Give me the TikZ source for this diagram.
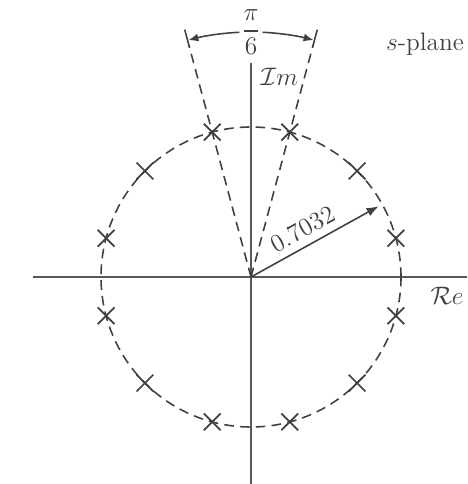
\documentclass[tikz,border=0pt]{standalone}
\usepackage{amsmath,amssymb}
\usepackage{tikz}
\usetikzlibrary{arrows.meta, shapes.misc}

\begin{document}
\begin{tikzpicture}[font=\Large, color=black!75, line width=0.9pt,
  pole/.style={cross out, draw=black!75, line width=1pt, minimum size=0.3cm, inner sep=0pt},
  guide/.style={dash pattern=on 5.5pt off 3.5pt}]
  \useasboundingbox (-5.02,-4.14) rectangle (4.32,5.54);
  % axes
  \coordinate (O) at (0,0);
  \coordinate (xl) at (-4.36,0);
  \coordinate (xr) at (4.32,0);
  \coordinate (yt) at (0,4.28);
  \coordinate (yb) at (0,-4.14);
  \draw[black!65] (xl) -- (xr);
  \draw[black!65] (yb) -- (yt);
  \node[right] (im) at (0.06,4.0) {$\mathcal{I}m$};
  \node (re) at (3.92,-0.38) {$\mathcal{R}e$};
  \node (splane) at (3.48,4.66) {$s$-plane};
  % circle of poles
  \draw[guide] (O) circle (3);
  \foreach \a [count=\i] in {15,45,...,345} {
    \node[pole] (p\i) at (\a:3) {};
  }
  % radius
  \coordinate (rtip) at (29:2.92);
  \draw[-{Latex[length=2.4mm,width=1.8mm]}] (O) -- node[above, sloped, pos=0.47, inner sep=4pt] (rlab) {0.7032} (rtip);
  % angle between the poles near the imaginary axis
  \coordinate (ga) at (75:4.8);
  \coordinate (gb) at (105:4.8);
  \draw[guide] (O) -- (ga);
  \draw[guide] (O) -- (gb);
  \draw (75:4.76) -- (75:5.12);
  \draw (105:4.76) -- (105:5.12);
  \node (ang) at (90:4.9) {$\dfrac{\pi}{6}$};
  \draw[-{Latex[length=2mm,width=1.6mm]}] (87.3:4.9) arc[start angle=87.3, end angle=75.2, radius=4.9];
  \draw[-{Latex[length=2mm,width=1.6mm]}] (92.7:4.9) arc[start angle=92.7, end angle=104.8, radius=4.9];
\end{tikzpicture}
\end{document}
